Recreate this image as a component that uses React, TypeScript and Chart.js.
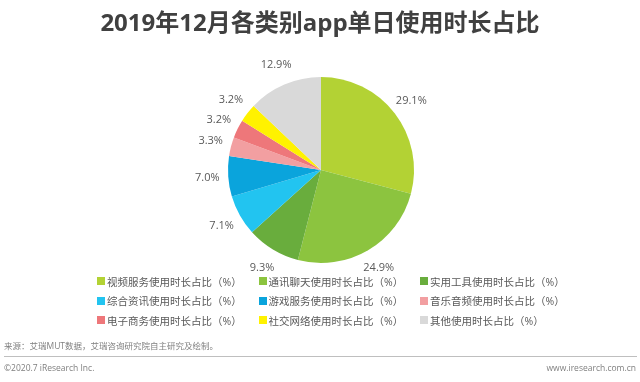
import React, { useEffect, useRef } from "react";
import { Chart, registerables } from "chart.js";

Chart.register(...registerables);

const titleText = "2019年12月各类别app单日使用时长占比";
const categories = [
  "视频服务使用时长占比（%）",
  "通讯聊天使用时长占比（%）",
  "实用工具使用时长占比（%）",
  "综合资讯使用时长占比（%）",
  "游戏服务使用时长占比（%）",
  "音乐音频使用时长占比（%）",
  "电子商务使用时长占比（%）",
  "社交网络使用时长占比（%）",
  "其他使用时长占比（%）",
];
const values = [29.1, 24.9, 9.3, 7.1, 7.0, 3.3, 3.2, 3.2, 12.9];
const colors = [
  "#b3d234",
  "#8cc43f",
  "#69ad3d",
  "#22c4f0",
  "#0aa4dc",
  "#f29fa1",
  "#ee777a",
  "#fff200",
  "#d9d9d9",
];
const sourceText = "来源：艾瑞MUT数据，艾瑞咨询研究院自主研究及绘制。";
const copyrightText = "©2020.7 iResearch Inc.";
const siteText = "www.iresearch.com.cn";

const FONT = '"Open Sans", "Noto Sans CJK SC", sans-serif';

const outsideLabels = {
  id: "outsideLabels",
  afterDatasetsDraw(chart: any) {
    const ctx = chart.ctx;
    const meta = chart.getDatasetMeta(0);
    ctx.save();
    ctx.font = `11px ${FONT}`;
    ctx.fillStyle = "#595959";
    ctx.textAlign = "center";
    ctx.textBaseline = "middle";
    meta.data.forEach((arc: any, i: number) => {
      const p = arc.getProps(["x", "y", "startAngle", "endAngle", "outerRadius"], true);
      const mid = (p.startAngle + p.endAngle) / 2;
      const r = p.outerRadius + 21;
      const x = p.x + Math.cos(mid) * r;
      const y = p.y + Math.sin(mid) * r;
      ctx.fillText(values[i].toFixed(1) + "%", x, y);
    });
    ctx.restore();
  },
};

export default function App() {
  const canvasRef = useRef<HTMLCanvasElement | null>(null);

  useEffect(() => {
    if (!canvasRef.current) return;
    const chart = new Chart(canvasRef.current, {
      type: "pie",
      data: {
        labels: categories,
        datasets: [
          {
            data: values,
            backgroundColor: colors,
            borderWidth: 0,
          },
        ],
      },
      options: {
        animation: false,
        responsive: false,
        maintainAspectRatio: false,
        layout: { padding: { top: 77, bottom: 119, left: 228, right: 226 } },
        plugins: {
          legend: { display: false },
          tooltip: { enabled: false },
          title: { display: false },
        },
      },
      plugins: [outsideLabels],
    });
    return () => chart.destroy();
  }, []);

  return (
    <div
      style={{
        position: "fixed",
        left: 0,
        top: 0,
        width: 640,
        height: 382,
        background: "#ffffff",
        overflow: "hidden",
        fontFamily: FONT,
      }}
    >
      <canvas
        ref={canvasRef}
        width={640}
        height={382}
        style={{ position: "absolute", left: 0, top: 0, width: 640, height: 382 }}
      />
      <div
        style={{
          position: "absolute",
          left: 0,
          top: 6,
          width: 640,
          textAlign: "center",
          fontSize: 24,
          fontWeight: 700,
          color: "#404040",
          lineHeight: "32px",
          fontFamily: '"Open Sans", "Noto Sans CJK SC", sans-serif',
        }}
      >
        {titleText}
      </div>
      {categories.map((c, i) => {
        const col = i % 3;
        const row = Math.floor(i / 3);
        return (
          <div
            key={c}
            style={{
              position: "absolute",
              left: 97 + col * 161.5,
              top: 273 + row * 19.5,
              height: 16,
              display: "flex",
              alignItems: "center",
              whiteSpace: "nowrap",
              fontSize: 10.5,
              color: "#595959",
            }}
          >
            <span
              style={{
                display: "inline-block",
                width: 8,
                height: 8,
                background: colors[i],
                marginRight: 2,
              }}
            />
            <span>{c}</span>
          </div>
        );
      })}
      <div
        style={{
          position: "absolute",
          left: 4,
          top: 340,
          fontSize: 8.5,
          color: "#7f7f7f",
          whiteSpace: "nowrap",
          lineHeight: "12px",
        }}
      >
        {sourceText}
      </div>
      <div
        style={{
          position: "absolute",
          left: 4,
          right: 3,
          top: 356,
          height: 1,
          background: "#bfbfbf",
        }}
      />
      <div
        style={{
          position: "absolute",
          left: 4,
          top: 362,
          fontSize: 8.5,
          color: "#7f7f7f",
          whiteSpace: "nowrap",
          lineHeight: "12px",
        }}
      >
        {copyrightText}
      </div>
      <div
        style={{
          position: "absolute",
          right: 4,
          top: 362,
          fontSize: 8.5,
          color: "#7f7f7f",
          whiteSpace: "nowrap",
          lineHeight: "12px",
        }}
      >
        {siteText}
      </div>
    </div>
  );
}
